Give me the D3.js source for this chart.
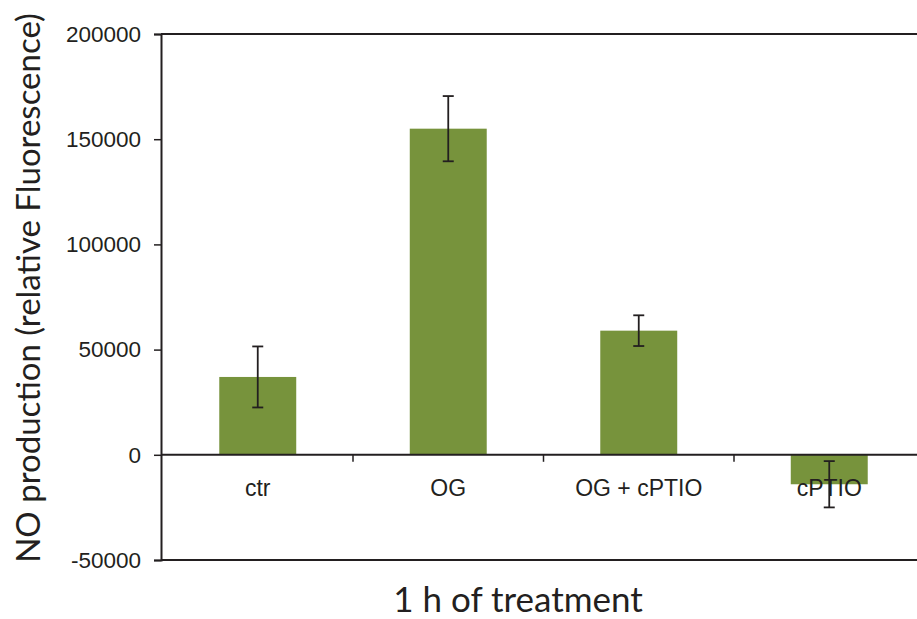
<!DOCTYPE html>
<html><head><meta charset="utf-8">
<script src="https://cdn.jsdelivr.net/npm/d3@7"></script>
<style>body{margin:0;background:#fff}svg{display:block}</style>
</head><body>
<svg id="c" width="917" height="619"></svg>
<script>
const categories = ["ctr", "OG", "OG + cPTIO", "cPTIO"];
const values = [37000, 155000, 59000, -14000];
const errors = [14500, 15500, 7300, 11000];
const yTicks = [-50000, 0, 50000, 100000, 150000, 200000];
const xTitle = "1 h of treatment";
const yTitle = "NO production (relative Fluorescence)";

const svg = d3.select("#c");
const axisX = 161, pLeft = 162.5, pRight = 924.5, pTop = 34, pBottom = 560;
const x = d3.scaleBand().domain(categories).range([pLeft, pRight]).paddingInner(0.596).paddingOuter(0.298);
const xb = d3.scaleBand().domain(categories).range([pLeft, pRight]).padding(0);
const y = d3.scaleLinear().domain([-50000, 200000]).range([pBottom, pTop]);
const axisColor = "#231f20";

// bars
svg.selectAll("rect.bar").data(categories).enter().append("rect")
  .attr("x", d => x(d)).attr("width", x.bandwidth())
  .attr("y", (d, i) => y(Math.max(0, values[i])))
  .attr("height", (d, i) => Math.abs(y(values[i]) - y(0)))
  .attr("fill", "#77933c");

// frame lines
svg.append("line").attr("x1", axisX).attr("x2", 917).attr("y1", y(200000)).attr("y2", y(200000)).attr("stroke", axisColor).attr("stroke-width", 2);
svg.append("line").attr("x1", axisX).attr("x2", 917).attr("y1", y(-50000)).attr("y2", y(-50000)).attr("stroke", axisColor).attr("stroke-width", 2);
svg.append("line").attr("x1", axisX).attr("x2", 917).attr("y1", y(0)).attr("y2", y(0)).attr("stroke", axisColor).attr("stroke-width", 2);

// y axis
const yAxis = d3.axisLeft(y).tickValues(yTicks).tickFormat(d => String(d)).tickSizeOuter(0).tickSize(7).tickPadding(13);
const gy = svg.append("g").attr("transform", `translate(${axisX},0)`).call(yAxis);
gy.select(".domain").attr("stroke", axisColor).attr("stroke-width", 2);
gy.selectAll(".tick line").attr("stroke", axisColor).attr("stroke-width", 1.5);
gy.selectAll(".tick text").attr("fill", "#231f20").style("font-family", "Liberation Sans, Arial, sans-serif").style("font-size", "22.5px");

// category separator ticks on zero line
svg.selectAll("line.sep").data(categories.slice(1)).enter().append("line")
  .attr("x1", d => xb(d)).attr("x2", d => xb(d))
  .attr("y1", y(0)).attr("y2", y(0) + 7)
  .attr("stroke", axisColor).attr("stroke-width", 1.5);

// error bars
const eb = svg.selectAll("g.err").data(categories).enter().append("g");
eb.append("line")
  .attr("x1", d => x(d) + x.bandwidth() / 2).attr("x2", d => x(d) + x.bandwidth() / 2)
  .attr("y1", (d, i) => y(values[i] + errors[i])).attr("y2", (d, i) => y(values[i] - errors[i]))
  .attr("stroke", "#231f20").attr("stroke-width", 1.8);
[1, -1].forEach(s => {
  eb.append("line")
    .attr("x1", d => x(d) + x.bandwidth() / 2 - 5.5).attr("x2", d => x(d) + x.bandwidth() / 2 + 5.5)
    .attr("y1", (d, i) => y(values[i] + s * errors[i])).attr("y2", (d, i) => y(values[i] + s * errors[i]))
    .attr("stroke", "#231f20").attr("stroke-width", 1.8);
});

// category labels
svg.selectAll("text.cat").data(categories).enter().append("text")
  .attr("x", d => x(d) + x.bandwidth() / 2).attr("y", y(0) + 41)
  .attr("text-anchor", "middle").attr("fill", "#231f20")
  .style("font-family", "Liberation Sans, Arial, sans-serif").style("font-size", "23px")
  .text(d => d);

// titles
svg.append("text").attr("x", 518).attr("y", 612).attr("text-anchor", "middle")
  .attr("fill", "#231f20").style("font-family", "Lato, 'Open Sans', sans-serif").style("font-size", "35px")
  .text(xTitle);
svg.append("text").attr("transform", "translate(40,288) rotate(-90)").attr("text-anchor", "middle")
  .attr("fill", "#231f20").style("font-family", "Lato, 'Open Sans', sans-serif").style("font-size", "33px")
  .text(yTitle);
</script>
</body></html>
